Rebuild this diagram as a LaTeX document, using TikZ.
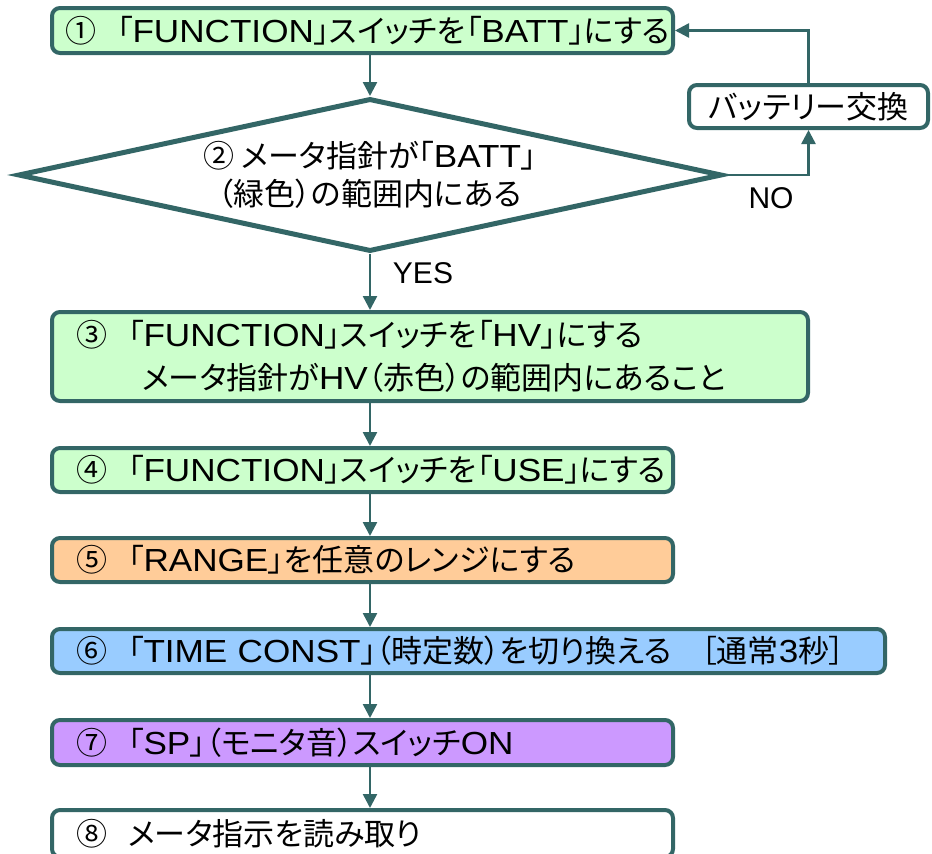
\documentclass[tikz,border=0pt]{standalone}
\usepackage{fontspec}
\setmainfont{Noto Sans CJK JP}[RawFeature=+palt]
\newfontfamily\lat{Liberation Sans}[Scale=1.03, FakeStretch=1.1]
\newfontfamily\labfont{Liberation Sans}
\usetikzlibrary{arrows.meta,shapes.geometric}
\definecolor{bd}{HTML}{336666}
\definecolor{gfill}{HTML}{CCFFCC}
\definecolor{ofill}{HTML}{FFCC99}
\definecolor{bfill}{HTML}{99CCFF}
\definecolor{pfill}{HTML}{CC99FF}
\newcommand{\gp}{\hspace{21pt}}
\begin{document}
\begin{tikzpicture}[x=1pt,y=-1pt,
  font=\fontsize{31}{43}\selectfont,
  box/.style={draw=bd, line width=4pt, rounded corners=8pt, align=left,
    inner ysep=0pt, inner xsep=24pt},
  arr/.style={draw=bd, line width=2.5pt, -{Triangle[length=14pt,width=14pt]}},
  lbl/.style={inner sep=0pt, font=\fontsize{30}{36}\labfont}]
\useasboundingbox (0,0) rectangle (932,854);
\clip (0,0) rectangle (932,854);
% boxes
\node[box, fill=gfill, inner xsep=13pt, text width=595pt, minimum height=45pt] (b1) at (362.5,30.5)
  {\mbox{①\gp「{\lat FUNCTION}」スイッチを「{\lat BATT}」にする}};
\node[box, fill=white, inner xsep=0pt, align=center, minimum width=239pt, minimum height=43pt] (bat) at (808.5,106.5)
  {バッテリー交換};
\node[diamond, draw=bd, line width=5pt, fill=white, shape aspect=4.6,
  minimum width=704pt, minimum height=153pt, inner sep=0pt, align=center,
  font=\fontsize{31}{38}\selectfont] (d) at (370,175)
  {\mbox{② メータ指針が「{\lat BATT}」}\\\mbox{（緑色）の範囲内にある}};
\node[box, fill=gfill, text width=708pt, minimum height=89pt] (b3) at (430,356.5)
  {\mbox{③\gp「{\lat FUNCTION}」スイッチを「{\lat HV}」にする}\\\mbox{\hspace*{66pt}メータ指針が{\lat HV}（赤色）の範囲内にあること}};
\node[box, fill=gfill, text width=573pt, minimum height=44pt] (b4) at (362.5,470)
  {\mbox{④\gp「{\lat FUNCTION}」スイッチを「{\lat USE}」にする}};
\node[box, fill=ofill, text width=573pt, minimum height=44pt] (b5) at (362.5,560)
  {\mbox{⑤\gp「{\lat RANGE}」を任意のレンジにする}};
\node[box, fill=bfill, text width=785pt, minimum height=44pt] (b6) at (468.5,651)
  {\mbox{⑥\gp「{\lat TIME CONST}」（時定数）を切り換える\hspace{30pt}［通常{\lat 3}秒］}};
\node[box, fill=pfill, text width=573pt, minimum height=45pt] (b7) at (362.5,742.5)
  {\mbox{⑦\gp「{\lat SP}」（モニタ音）スイッチ{\lat ON}}};
\node[box, fill=white, text width=573pt, minimum height=47pt] (b8) at (362.5,833.5)
  {\mbox{⑧\gp メータ指示を読み取り}};
% labels
\node[lbl] (yes) at (423,273) {YES};
\node[lbl] (no) at (771,198) {NO};
% connectors
\draw[arr] (b1.south -| d.north) -- (d.north);
\draw[arr] (d.south) -- (b3.north -| d.south);
\draw[arr] (b3.south -| d.south) -- (b4.north -| d.south);
\draw[arr] (b4.south -| d.south) -- (b5.north -| d.south);
\draw[arr] (b5.south -| d.south) -- (b6.north -| d.south);
\draw[arr] (b6.south -| d.south) -- (b7.north -| d.south);
\draw[arr] (b7.south -| d.south) -- (b8.north -| d.south);
\draw[arr] (d.east) -| (bat.south);
\draw[arr] (bat.north) |- (b1.east);
\end{tikzpicture}
\end{document}
